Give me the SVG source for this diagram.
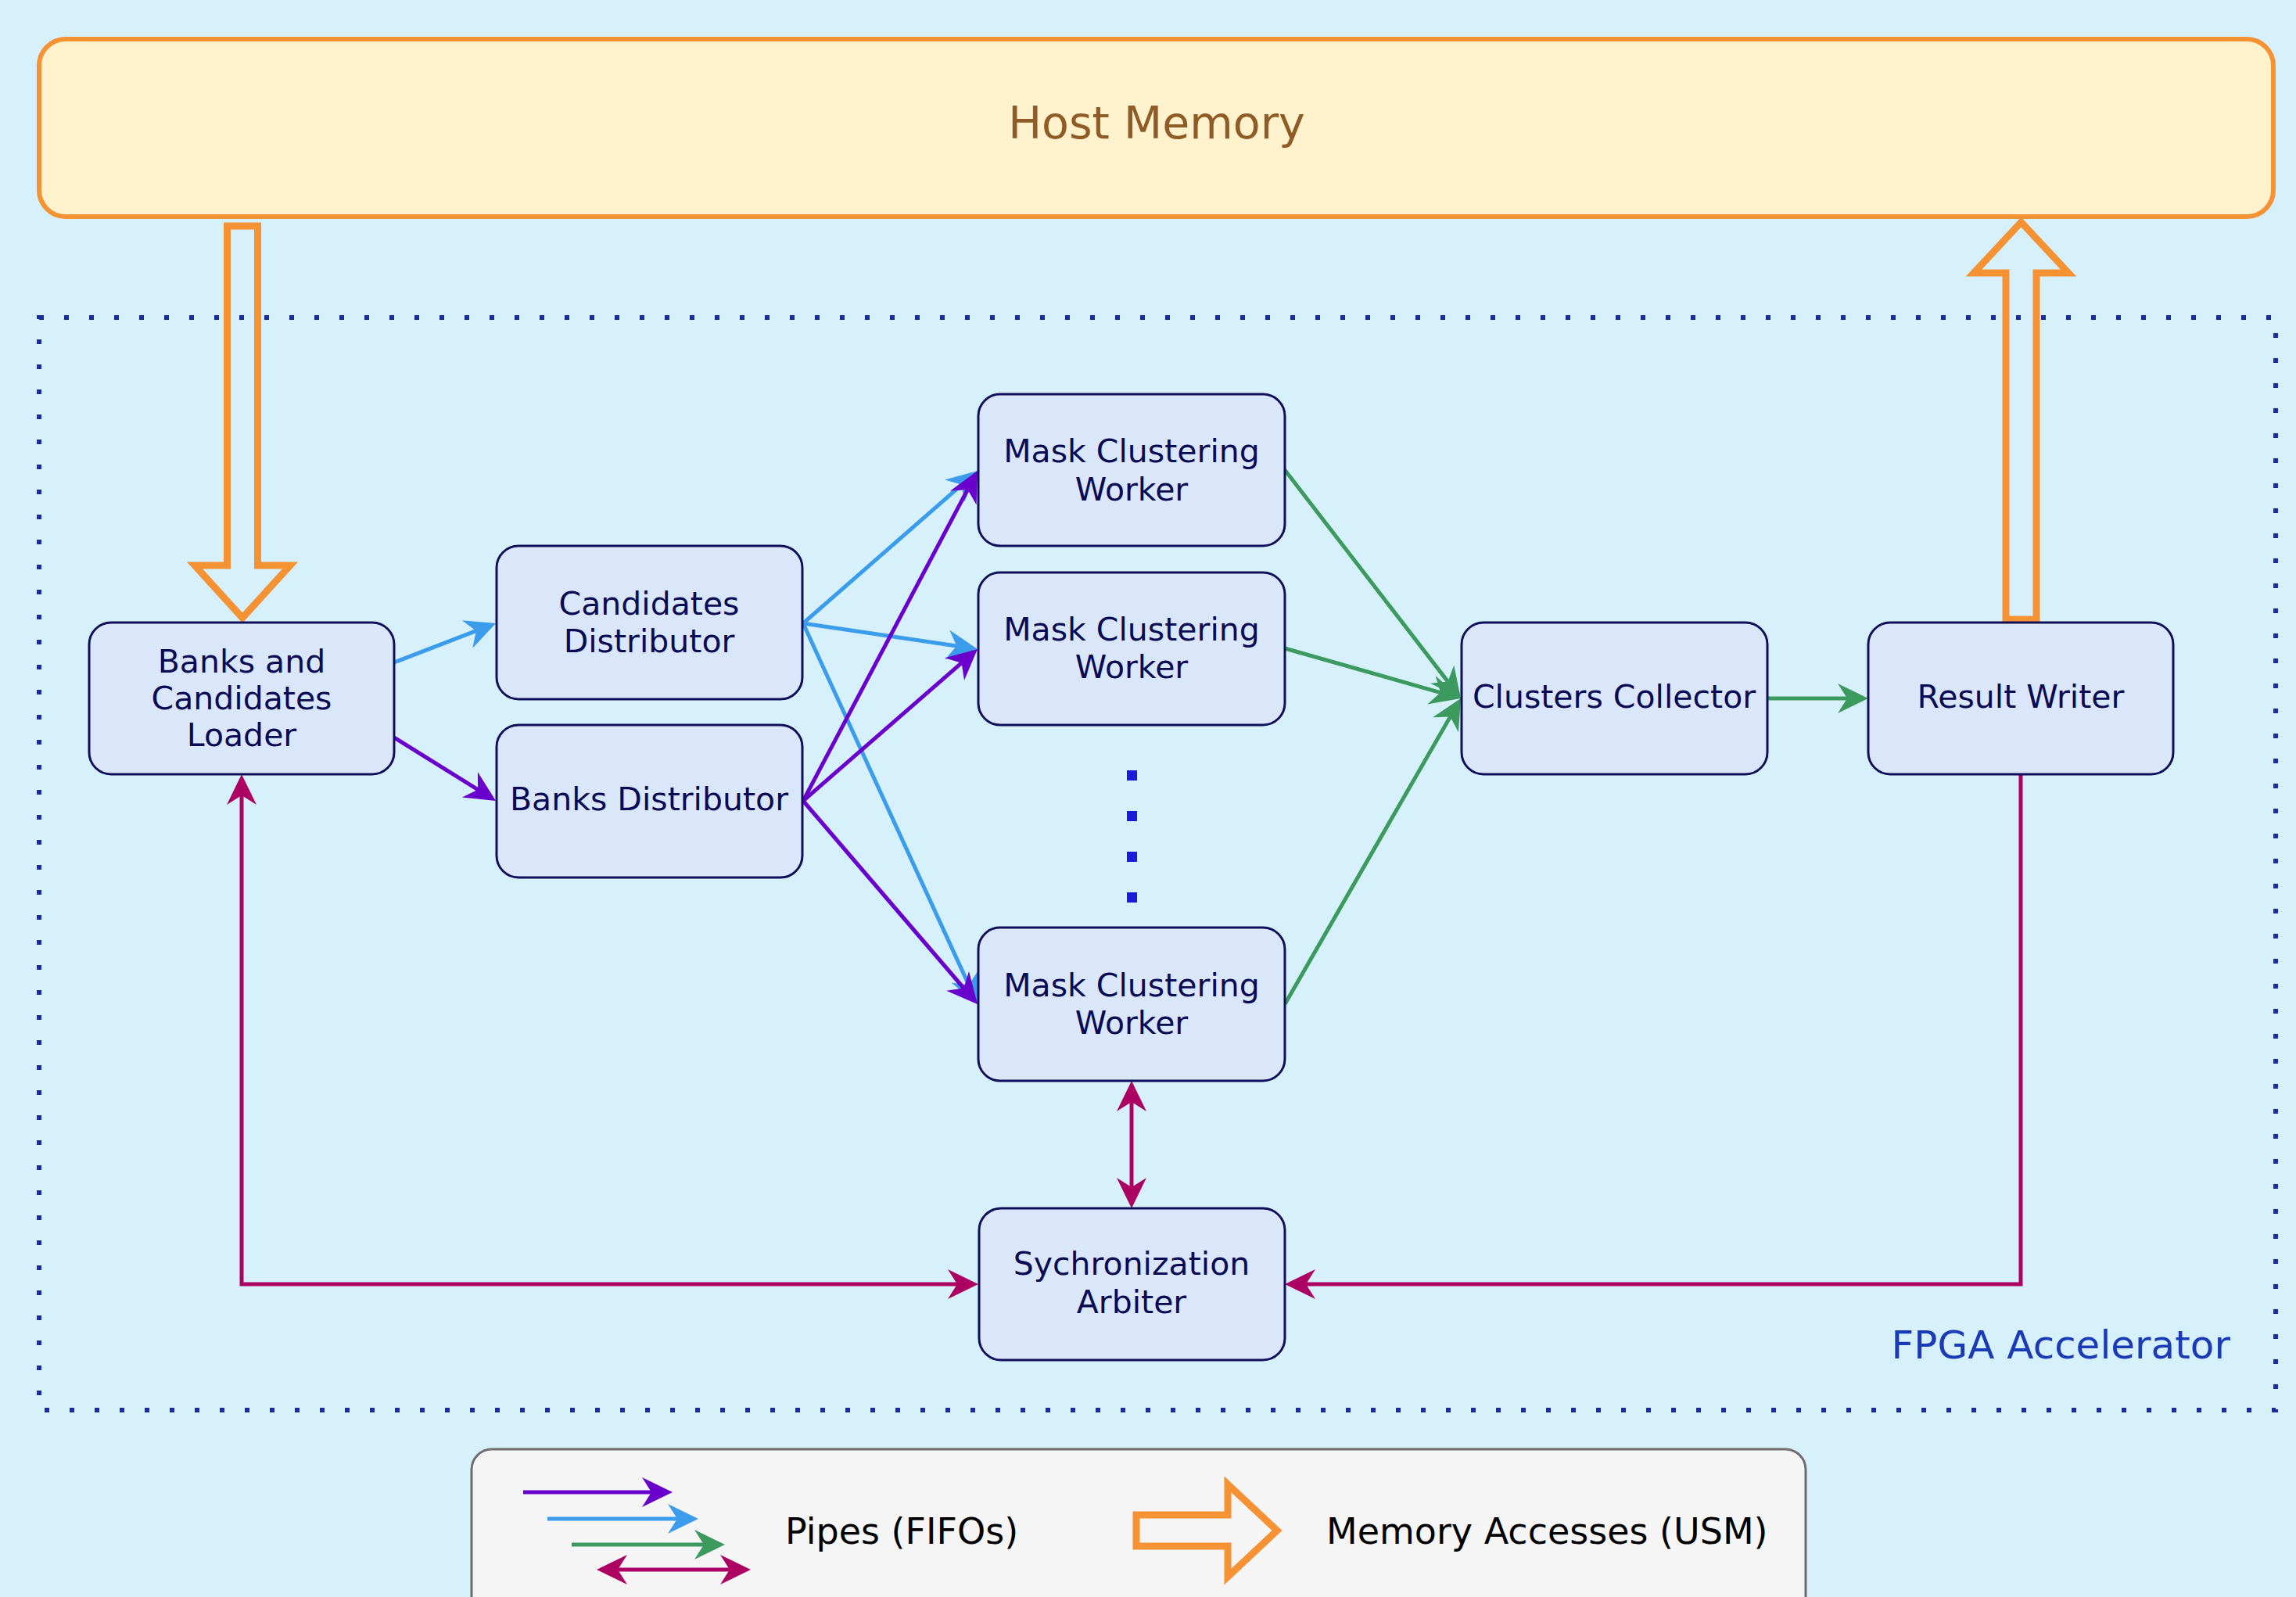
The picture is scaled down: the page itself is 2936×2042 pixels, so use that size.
<svg xmlns="http://www.w3.org/2000/svg" width="2936" height="2042" viewBox="0 0 2936 2042">
  <defs>
    <style>
      .node rect { fill: #DAE7FA; stroke: #10105A; stroke-width: 3; }
      .node text { font-family: "DejaVu Sans", "Liberation Sans", sans-serif; font-size: 41px; fill: #0B0B55; text-anchor: middle; }
      .conn { fill: none; stroke-width: 5; stroke-linejoin: miter; }
      .blue { stroke: #3B9CEB; }
      .purple { stroke: #6A00CC; }
      .green { stroke: #3C9A5F; }
      .mag { stroke: #AD0063; }
      .usm { fill: none; stroke: #F59234; stroke-width: 9; stroke-linejoin: miter; stroke-miterlimit: 10; }
      .legtext { font-family: "DejaVu Sans", "Liberation Sans", sans-serif; font-size: 46px; fill: #000000; }
    </style>
    <marker id="ah-blue" viewBox="-13 -20 42 40" markerWidth="42" markerHeight="40" refX="0" refY="0" markerUnits="userSpaceOnUse" orient="auto-start-reverse">
      <path d="M27,0 L-12,-19 L0,0 L-12,19 Z" fill="#3B9CEB"/>
    </marker>
    <marker id="ah-purple" viewBox="-13 -20 42 40" markerWidth="42" markerHeight="40" refX="0" refY="0" markerUnits="userSpaceOnUse" orient="auto-start-reverse">
      <path d="M27,0 L-12,-19 L0,0 L-12,19 Z" fill="#6A00CC"/>
    </marker>
    <marker id="ah-green" viewBox="-13 -20 42 40" markerWidth="42" markerHeight="40" refX="0" refY="0" markerUnits="userSpaceOnUse" orient="auto-start-reverse">
      <path d="M27,0 L-12,-19 L0,0 L-12,19 Z" fill="#3C9A5F"/>
    </marker>
    <marker id="ah-mag" viewBox="-13 -20 42 40" markerWidth="42" markerHeight="40" refX="0" refY="0" markerUnits="userSpaceOnUse" orient="auto-start-reverse">
      <path d="M27,0 L-12,-19 L0,0 L-12,19 Z" fill="#AD0063"/>
    </marker>
  </defs>

  <!-- background -->
  <rect x="0" y="0" width="2936" height="2042" fill="#D6F1FC"/>

  <!-- Host Memory -->
  <g id="host-memory">
    <rect x="50" y="50" width="2857" height="227" rx="34" ry="34" fill="#FFF2CC" stroke="#F59234" stroke-width="6"/>
    <text x="1479" y="177" font-family="DejaVu Sans, Liberation Sans, sans-serif" font-size="57" fill="#8F5B26" text-anchor="middle">Host Memory</text>
  </g>

  <!-- FPGA Accelerator boundary -->
  <g id="fpga-accelerator">
    <rect x="50" y="406" width="2860" height="1397" fill="none" stroke="#1A2AA0" stroke-width="6" stroke-dasharray="6 26"/>
    <text x="2852" y="1737" font-family="DejaVu Sans, Liberation Sans, sans-serif" font-size="50" fill="#1A3BB5" text-anchor="end">FPGA Accelerator</text>
  </g>

  <!-- Memory access block arrows -->
  <g id="usm-arrows">
    <path class="usm" d="M290.5,289 L329.5,289 L329.5,723 L371,723 L310,790 L249,723 L290.5,723 Z"/>
    <path class="usm" d="M2565,792 L2604,792 L2604,349 L2645,349 L2584.5,284 L2524,349 L2565,349 Z"/>
  </g>

  <!-- Connectors -->
  <g id="connectors">
    <path class="conn blue" d="M504,847 L608.8,806.7" marker-end="url(#ah-blue)"/>
    <path class="conn purple" d="M504,943 L611.1,1009.7" marker-end="url(#ah-purple)"/>

    <path class="conn blue" d="M1027,797 L1229.7,619.8" marker-end="url(#ah-blue)"/>
    <path class="conn blue" d="M1027,797 L1223.3,826" marker-end="url(#ah-blue)"/>
    <path class="conn blue" d="M1027,797 L1238.8,1259.4" marker-end="url(#ah-blue)"/>

    <path class="conn purple" d="M1027,1024 L1237.4,625.9" marker-end="url(#ah-purple)"/>
    <path class="conn purple" d="M1027,1024 L1229.6,847.7" marker-end="url(#ah-purple)"/>
    <path class="conn purple" d="M1027,1024 L1232.4,1263.5" marker-end="url(#ah-purple)"/>

    <path class="conn green" d="M1643,601 L1851.5,871.6" marker-end="url(#ah-green)"/>
    <path class="conn green" d="M1643,829 L1842,885.6" marker-end="url(#ah-green)"/>
    <path class="conn green" d="M1643,1284 L1854.5,916.4" marker-end="url(#ah-green)"/>
    <path class="conn green" d="M2260,893 L2362,893" marker-end="url(#ah-green)"/>

    <path class="conn mag" d="M1447,1409 L1447,1518" marker-start="url(#ah-mag)" marker-end="url(#ah-mag)"/>
    <path class="conn mag" d="M309,1017 L309,1642 L1224,1642" marker-start="url(#ah-mag)" marker-end="url(#ah-mag)"/>
    <path class="conn mag" d="M2584,990 L2584,1642 L1670,1642" marker-end="url(#ah-mag)"/>
  </g>

  <!-- Nodes -->
  <g id="loader" class="node">
    <rect x="114" y="796" width="390" height="194" rx="28" ry="28"/>
    <text x="309" y="860">Banks and</text>
    <text x="309" y="907">Candidates</text>
    <text x="309" y="954">Loader</text>
  </g>
  <g id="candidates-distributor" class="node">
    <rect x="635" y="698" width="391" height="196" rx="28" ry="28"/>
    <text x="830" y="786">Candidates</text>
    <text x="830" y="834">Distributor</text>
  </g>
  <g id="banks-distributor" class="node">
    <rect x="635" y="927" width="391" height="195" rx="28" ry="28"/>
    <text x="830" y="1036">Banks Distributor</text>
  </g>
  <g id="worker-1" class="node">
    <rect x="1251" y="504" width="392" height="194" rx="28" ry="28"/>
    <text x="1447" y="591">Mask Clustering</text>
    <text x="1447" y="640">Worker</text>
  </g>
  <g id="worker-2" class="node">
    <rect x="1251" y="732" width="392" height="195" rx="28" ry="28"/>
    <text x="1447" y="819">Mask Clustering</text>
    <text x="1447" y="867">Worker</text>
  </g>
  <g id="worker-ellipsis">
    <rect x="1441" y="985" width="13" height="13" fill="#1A1ADB"/>
    <rect x="1441" y="1037" width="13" height="13" fill="#1A1ADB"/>
    <rect x="1441" y="1089" width="13" height="13" fill="#1A1ADB"/>
    <rect x="1441" y="1141" width="13" height="13" fill="#1A1ADB"/>
  </g>
  <g id="worker-n" class="node">
    <rect x="1251" y="1186" width="392" height="196" rx="28" ry="28"/>
    <text x="1447" y="1274">Mask Clustering</text>
    <text x="1447" y="1322">Worker</text>
  </g>
  <g id="clusters-collector" class="node">
    <rect x="1869" y="796" width="391" height="194" rx="28" ry="28"/>
    <text x="2064" y="905">Clusters Collector</text>
  </g>
  <g id="result-writer" class="node">
    <rect x="2389" y="796" width="390" height="194" rx="28" ry="28"/>
    <text x="2584" y="905">Result Writer</text>
  </g>
  <g id="sync-arbiter" class="node">
    <rect x="1252" y="1545" width="391" height="194" rx="28" ry="28"/>
    <text x="1447" y="1630">Sychronization</text>
    <text x="1447" y="1679">Arbiter</text>
  </g>

  <!-- Legend -->
  <g id="legend">
    <rect x="603" y="1853" width="1706" height="240" rx="26" ry="26" fill="#F5F5F5" stroke="#6E6E6E" stroke-width="3"/>
    <path class="conn purple" d="M669,1908 L833,1908" marker-end="url(#ah-purple)"/>
    <path class="conn blue" d="M700,1942 L866,1942" marker-end="url(#ah-blue)"/>
    <path class="conn green" d="M731,1975 L900,1975" marker-end="url(#ah-green)"/>
    <path class="conn mag" d="M790,2007 L933,2007" marker-start="url(#ah-mag)" marker-end="url(#ah-mag)"/>
    <text class="legtext" x="1004" y="1974">Pipes (FIFOs)</text>
    <path class="usm" d="M1453,1937 L1570,1937 L1570,1898 L1633,1957 L1570,2016 L1570,1977 L1453,1977 Z"/>
    <text class="legtext" x="1696" y="1974">Memory Accesses (USM)</text>
  </g>
</svg>
